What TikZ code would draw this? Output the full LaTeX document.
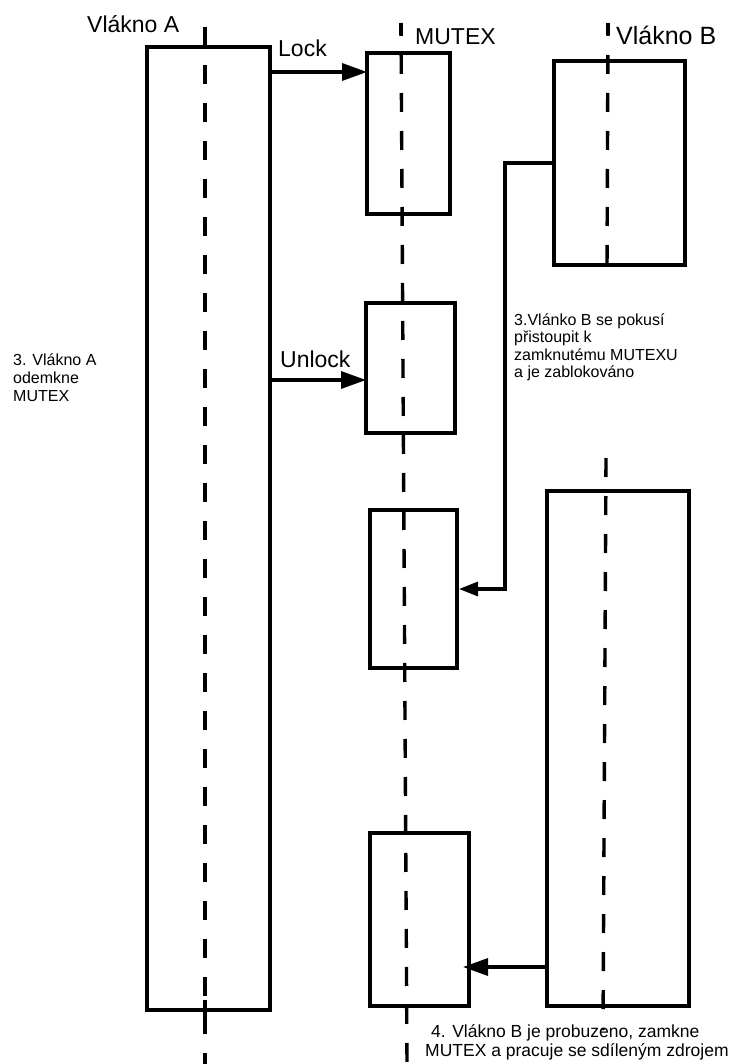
\documentclass[tikz,border=0pt]{standalone}
\usepackage{fontspec}
\setmainfont{Liberation Sans}
\usetikzlibrary{arrows.meta}
\begin{document}
\begin{tikzpicture}[x=1pt,y=-1pt,
  box/.style={draw, line width=3.8pt, inner sep=0pt, outer sep=0pt, anchor=north west, rectangle, fill=white},
  life/.style={line width=3.4pt, dash pattern=on 19pt off 19pt},
  stub/.style={line width=3.4pt},
  msg/.style={line width=3.4pt, -{Triangle[length=25pt,width=17pt]}},
  msgs/.style={line width=3.2pt, -{Triangle[length=19pt,width=14pt]}},
  title/.style={anchor=base west, inner sep=0pt, font=\fontsize{23}{27}\selectfont},
  note/.style={anchor=base west, inner sep=0pt, align=left}
]
\useasboundingbox (0,0) rectangle (735,1064);
% lifelines
\draw[life] (205,27) -- (205,1064);
\draw[life, dash phase=6pt] (401,23) -- (407,1064);
\draw[life, dash phase=6pt] (608,23) -- (607,268);
\draw[life] (606,458) -- (603,1030);
% boxes
\node[box, minimum width=123pt, minimum height=963pt] (A) at (147,47) {};
\node[box, minimum width=83pt, minimum height=161pt] (M1) at (367,53) {};
\node[box, minimum width=89pt, minimum height=130pt] (M2) at (366,303) {};
\node[box, minimum width=87pt, minimum height=158pt] (M3) at (370,510) {};
\node[box, minimum width=99pt, minimum height=173pt] (M4) at (370,833) {};
\node[box, minimum width=131pt, minimum height=204pt] (B1) at (554,61) {};
\node[box, minimum width=142pt, minimum height=515pt] (B2) at (547,491) {};
% lifelines over boxes
\begin{scope}
\clip (A.north west) rectangle (A.south east);
\draw[life] (205,27) -- (205,1064);
\end{scope}
\draw[stub] (205,27) -- (205,47);
\draw[stub] (205,1000) -- (205,1022);
\foreach \b in {M1,M2,M3,M4}{
  \begin{scope}
  \clip (\b.north west) rectangle (\b.south east);
  \draw[life, dash phase=6pt] (401,23) -- (407,1064);
  \end{scope}
}
\begin{scope}
\clip (B1.north west) rectangle (B1.south east);
\draw[life, dash phase=6pt] (608,23) -- (607,268);
\end{scope}
\begin{scope}
\clip (B2.north west) rectangle (B2.south east);
\draw[life] (606,458) -- (603,1030);
\end{scope}
\draw[stub] (401,23) -- (401,35);
\draw[stub] (608,23) -- (608,35);
% titles
\node[title] (tA) at (87,33) {Vlákno A};
\node[title] (tM) at (415,45) {MUTEX};
\node[title, font=\fontsize{25}{29}\selectfont] (tB) at (616,45) {Vlákno B};
% messages
\coordinate (yLock) at (0,72);
\coordinate (yUnlock) at (0,380);
\coordinate (yB) at (0,163);
\coordinate (xBend) at (505,0);
\coordinate (yWake) at (0,967);
\draw[msg] (A.east |- yLock) -- (M1.west |- yLock);
\node[title] (lLock) at (278,57) {Lock};
\draw[msg] (A.east |- yUnlock) -- (M2.west |- yUnlock);
\node[title] (lUnlock) at (280,367) {Unlock};
\draw[msgs] (B1.west |- yB) -| (xBend |- M3.east) -- ([xshift=2pt]M3.east);
\draw[msg] (B2.west |- yWake) -- ([xshift=-6pt]M4.east |- yWake);
% notes (base anchor = last line)
\node[note, font=\fontsize{16}{18}\selectfont] (nA) at (13,401) {3. Vlákno A\\odemkne\\MUTEX};
\node[note, font=\fontsize{16}{17.5}\selectfont] (nB) at (514,377.5) {3.Vlánko B se pokusí\\přistoupit k\\zamknutému MUTEXU\\a je zablokováno};
\node[note, font=\fontsize{17.5}{19}\selectfont] (nW) at (425,1056) {\hspace*{6pt}4. Vlákno B je probuzeno, zamkne\\MUTEX a pracuje se sdíleným zdrojem};
\end{tikzpicture}
\end{document}
